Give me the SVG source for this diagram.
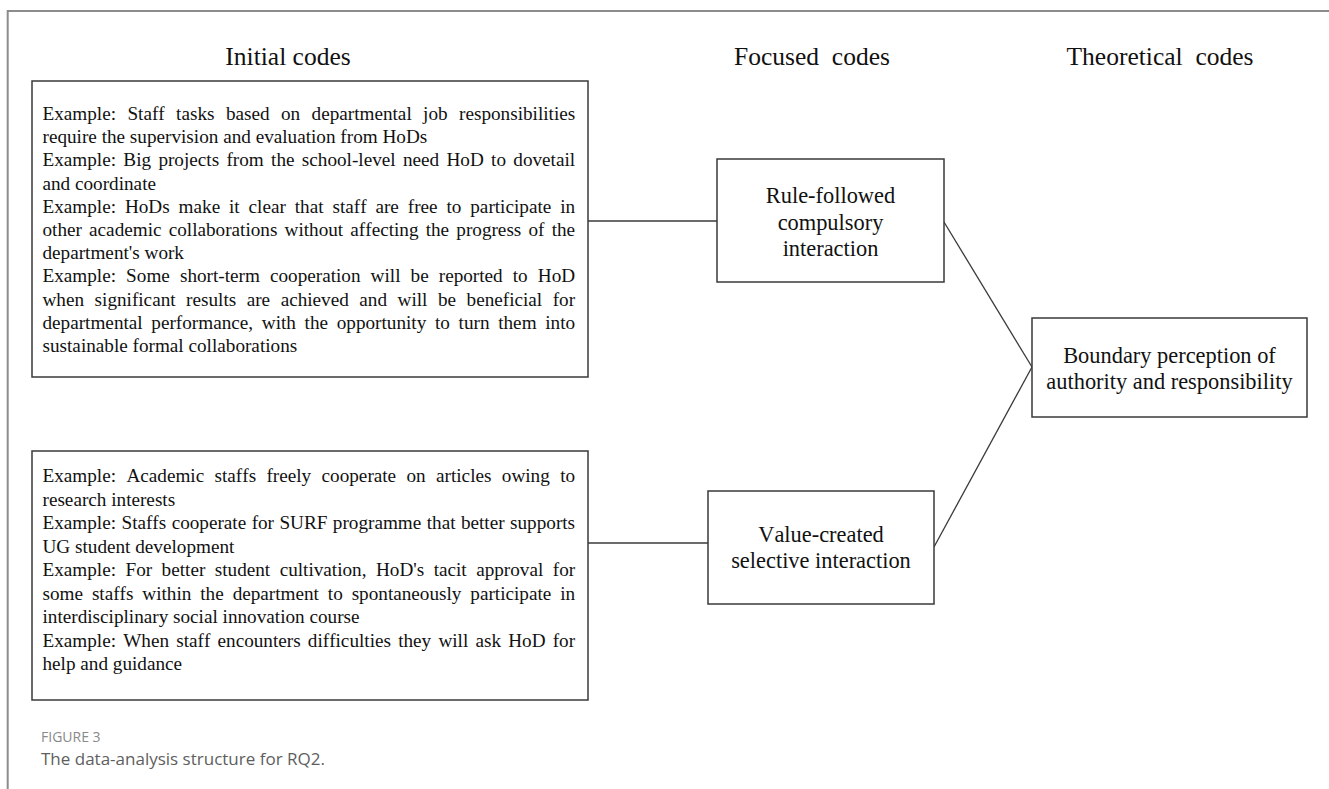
<svg xmlns="http://www.w3.org/2000/svg" width="1329" height="789" viewBox="0 0 1329 789">
  <style>
    .frame{fill:none;stroke:#8c8c8c;stroke-width:2}
    .box{fill:#ffffff;stroke:#3a3a3a;stroke-width:1.5}
    .edge{fill:none;stroke:#3a3a3a;stroke-width:1.3}
    .serif{font-family:"Liberation Serif","Times New Roman",serif;fill:#111111;font-kerning:none;font-variant-ligatures:none}
    .head{font-size:25.5px;text-anchor:middle}
    .body{font-size:19.2px}
    .node{font-size:22.4px;text-anchor:middle}
    .fig{font-family:"Open Sans","Liberation Sans",sans-serif;font-size:14px;fill:#8a8a8a}
    .cap{font-family:"Open Sans","Liberation Sans",sans-serif;font-size:17px;fill:#5e5e5e}
  </style>

  <rect x="0" y="0" width="1329" height="789" fill="#ffffff"/>

  <!-- page frame -->
  <path class="frame" d="M7.7,789 V11 H1329"/>

  <!-- column headings -->
  <g id="headings" class="serif head">
    <text x="288" y="65">Initial codes</text>
    <text x="812" y="65" xml:space="preserve">Focused  codes</text>
    <text x="1160" y="65" xml:space="preserve">Theoretical  codes</text>
  </g>

  <!-- connectors -->
  <g id="connectors">
    <line class="edge" x1="588" y1="221" x2="717" y2="221"/>
    <line class="edge" x1="588" y1="543" x2="708" y2="543"/>
    <line class="edge" x1="944" y1="222" x2="1032" y2="367"/>
    <line class="edge" x1="934" y1="547" x2="1032" y2="367"/>
  </g>

  <!-- initial codes: compulsory examples -->
  <g id="initial-compulsory">
    <rect class="box" x="32" y="81" width="556" height="296"/>
    <g class="serif body">
      <text x="42.5" y="120" style="word-spacing:6.6px">Example: Staff tasks based on departmental job responsibilities</text>
      <text x="42.5" y="143.2">require the supervision and evaluation from HoDs</text>
      <text x="42.5" y="166.4" style="word-spacing:2.52px">Example: Big projects from the school-level need HoD to dovetail</text>
      <text x="42.5" y="189.6">and coordinate</text>
      <text x="42.5" y="212.8" style="word-spacing:4.1px">Example: HoDs make it clear that staff are free to participate in</text>
      <text x="42.5" y="236" style="word-spacing:2.37px">other academic collaborations without affecting the progress of the</text>
      <text x="42.5" y="259.2">department's work</text>
      <text x="42.5" y="282.4" style="word-spacing:5.3px">Example: Some short-term cooperation will be reported to HoD</text>
      <text x="42.5" y="305.6" style="word-spacing:5.72px">when significant results are achieved and will be beneficial for</text>
      <text x="42.5" y="328.8" style="word-spacing:3.9px">departmental performance, with the opportunity to turn them into</text>
      <text x="42.5" y="352">sustainable formal collaborations</text>
    </g>
  </g>

  <!-- initial codes: selective examples -->
  <g id="initial-selective">
    <rect class="box" x="32" y="451" width="556" height="249"/>
    <g class="serif body">
      <text x="42.5" y="482" style="word-spacing:5.57px">Example: Academic staffs freely cooperate on articles owing to</text>
      <text x="42.5" y="505.5">research interests</text>
      <text x="42.5" y="529" style="word-spacing:0.63px">Example: Staffs cooperate for SURF programme that better supports</text>
      <text x="42.5" y="552.5">UG student development</text>
      <text x="42.5" y="576" style="word-spacing:4.67px">Example: For better student cultivation, HoD's tacit approval for</text>
      <text x="42.5" y="599.5" style="word-spacing:4.1px">some staffs within the department to spontaneously participate in</text>
      <text x="42.5" y="623">interdisciplinary social innovation course</text>
      <text x="42.5" y="646.5" style="word-spacing:2.4px">Example: When staff encounters difficulties they will ask HoD for</text>
      <text x="42.5" y="670">help and guidance</text>
    </g>
  </g>

  <!-- focused code: rule-followed -->
  <g id="focused-rule">
    <rect class="box" x="717" y="159" width="227" height="123"/>
    <g class="serif node">
      <text x="830.5" y="203">Rule-followed</text>
      <text x="830.5" y="229.5">compulsory</text>
      <text x="830.5" y="256">interaction</text>
    </g>
  </g>

  <!-- focused code: value-created -->
  <g id="focused-value">
    <rect class="box" x="708" y="491" width="226" height="113"/>
    <g class="serif node">
      <text x="821" y="542">Value-created</text>
      <text x="821" y="568">selective interaction</text>
    </g>
  </g>

  <!-- theoretical code -->
  <g id="theoretical-boundary">
    <rect class="box" x="1032" y="318" width="275" height="99"/>
    <g class="serif node">
      <text x="1169.5" y="363">Boundary perception of</text>
      <text x="1169.5" y="389">authority and responsibility</text>
    </g>
  </g>

  <!-- caption -->
  <g id="caption">
    <text class="fig" x="41" y="742">FIGURE 3</text>
    <text class="cap" x="41" y="765">The data-analysis structure for RQ2.</text>
  </g>
</svg>
